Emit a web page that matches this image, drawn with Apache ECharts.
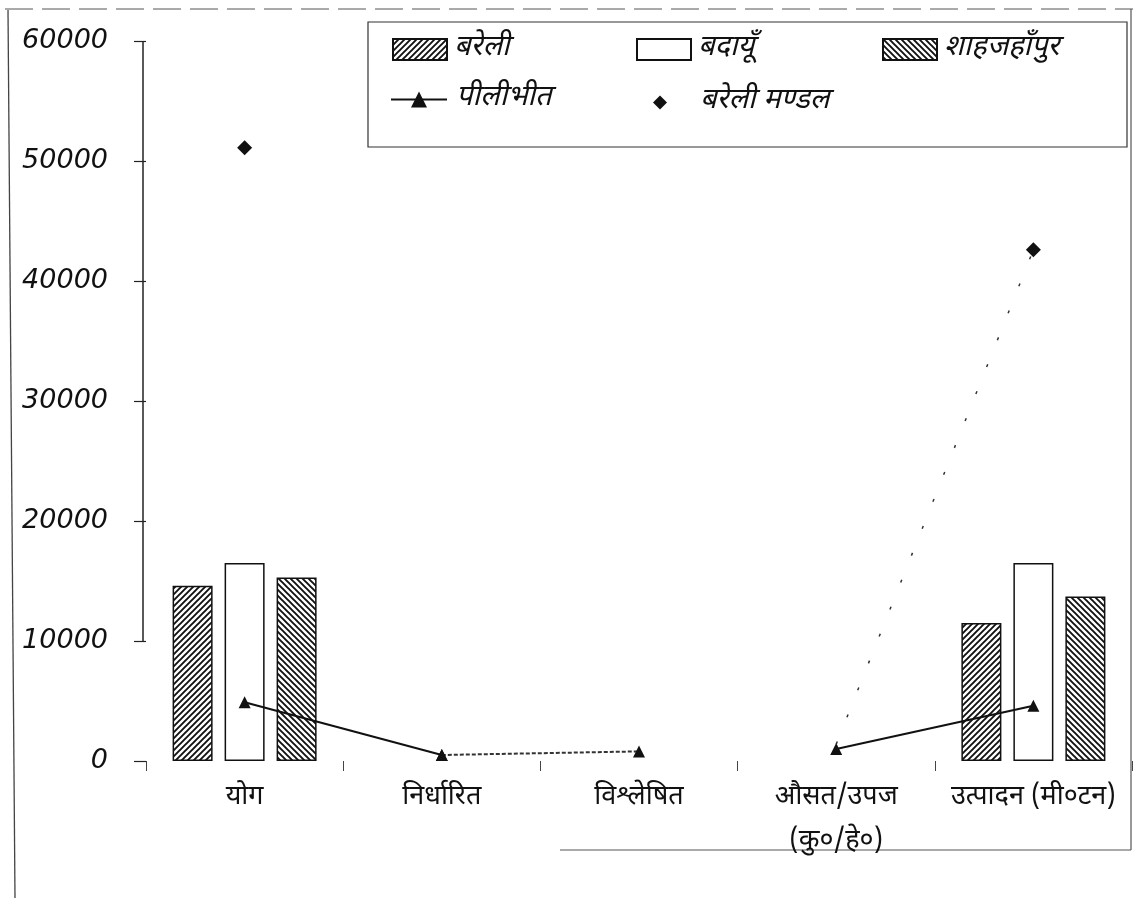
<!DOCTYPE html>
<html>
<head>
<meta charset="utf-8">
<script src="https://cdn.jsdelivr.net/npm/echarts@6/dist/echarts.min.js"></script>
<style>
  html, body { margin: 0; padding: 0; background: #fff; }
  #chart { width: 1138px; height: 901px; }
</style>
</head>
<body>
<div id="chart"></div>
<script>
// Categories along the x axis
const categories = ['योग', 'निर्धारित', 'विश्लेषित', 'औसत/उपज\n(कु०/हे०)', 'उत्पादन (मी०टन)'];

// District values (bars)
const bareli       = [14600, '-', '-', '-', 11500];
const badayun      = [16500, '-', '-', '-', 16500];
const shahjahanpur = [15300, '-', '-', '-', 13700];

// Pilibhit (line with triangles)
const pilibhit = [4900, 500, 800, 1000, 4600];

// Bareli division (diamonds)
const mandal = [51100, '-', '-', 1400, 42600];

// Value axis
const yMin = 0, yMax = 60000, yStep = 10000;

const DEVA = '"Noto Sans Devanagari", "Lohit Devanagari", "Noto Sans", sans-serif';

// Diagonal hatch fill: dir 1 = '/', dir -1 = '\'
function hatch(dir) {
  const s = 6, c = document.createElement('canvas');
  c.width = c.height = s;
  const g = c.getContext('2d');
  g.fillStyle = '#fff'; g.fillRect(0, 0, s, s);
  g.strokeStyle = '#111'; g.lineWidth = 1.9;
  g.beginPath();
  if (dir > 0) {
    g.moveTo(-1, 1); g.lineTo(1, -1);
    g.moveTo(0, s); g.lineTo(s, 0);
    g.moveTo(s - 1, s + 1); g.lineTo(s + 1, s - 1);
  } else {
    g.moveTo(-1, s - 1); g.lineTo(1, s + 1);
    g.moveTo(0, 0); g.lineTo(s, s);
    g.moveTo(s - 1, -1); g.lineTo(s + 1, 1);
  }
  g.stroke();
  return { image: c, repeat: 'repeat' };
}

// Pilibhit is drawn in pieces: solid, dashed, gap, solid
const pA = pilibhit.map((v, i) => (i <= 1 ? v : '-'));
const pB = pilibhit.map((v, i) => (i >= 1 && i <= 2 ? v : '-'));
const pC = pilibhit.map((v, i) => (i >= 3 ? v : '-'));

const mandalData = mandal.map((v, i) => (i === 3 ? { value: v, symbol: 'none' } : v));

// One legend block per entry so each sits in its own column
function legendAt(name, left, top, w, h, gap, icon) {
  return {
    data: [name], left: left, top: top, itemWidth: w, itemHeight: h,
    orient: 'horizontal', padding: 0, selectedMode: false,
    icon: icon,
    formatter: '{s|}{t|{name}}',
    textStyle: {
      rich: {
        s: { width: gap },
        t: { fontFamily: DEVA, fontSize: 29, fontStyle: 'italic', color: '#111' }
      }
    }
  };
}

const chart = echarts.init(document.getElementById('chart'), null, { renderer: 'canvas' });

chart.setOption({
  animation: false,
  backgroundColor: '#fff',
  grid: { left: 146, top: 41, width: 986, height: 720, containLabel: false },
  legend: [
    legendAt('बरेली', 392, 35, 54, 21, 2, 'rect'),
    legendAt('बदायूँ', 636, 35, 54, 21, 2, 'rect'),
    legendAt('शाहजहाँपुर', 882, 35, 54, 21, 2, 'rect'),
    legendAt('पीलीभीत', 390, 85, 56, 20, 4),
    legendAt('बरेली मण्डल', 653, 88, 14, 14, 28, 'diamond')
  ],
  xAxis: {
    type: 'category',
    data: categories,
    axisLine: { show: false },
    axisTick: { show: true, length: 10, lineStyle: { color: '#444', width: 1 } },
    axisLabel: {
      fontFamily: DEVA, fontSize: 27, color: '#111',
      margin: 16, lineHeight: 44, interval: 0
    },
    splitLine: { show: false }
  },
  yAxis: {
    type: 'value',
    min: yMin, max: yMax, interval: yStep,
    axisLine: { show: false },
    axisTick: { show: true, length: 12, lineStyle: { color: '#222', width: 1.2 } },
    axisLabel: {
      fontFamily: '"DejaVu Sans", sans-serif', fontStyle: 'italic',
      fontSize: 27, color: '#111', margin: 38,
      formatter: function (v) { return String(v); }
    },
    splitLine: { show: false }
  },
  series: [
    {
      name: 'बरेली', type: 'bar', data: bareli,
      barWidth: 40, barGap: '30%',
      itemStyle: { color: hatch(1), borderColor: '#111', borderWidth: 1.5 }
    },
    {
      name: 'बदायूँ', type: 'bar', data: badayun,
      barWidth: 40, barGap: '30%',
      itemStyle: { color: '#fff', borderColor: '#111', borderWidth: 1.5 }
    },
    {
      name: 'शाहजहाँपुर', type: 'bar', data: shahjahanpur,
      barWidth: 40, barGap: '30%',
      itemStyle: { color: hatch(-1), borderColor: '#111', borderWidth: 1.5 }
    },
    {
      name: 'पीलीभीत', type: 'line', data: pA,
      symbol: 'triangle', symbolSize: 12,
      lineStyle: { color: '#111', width: 2 },
      itemStyle: { color: '#111' }
    },
    {
      name: 'पीलीभीत', type: 'line', data: pB,
      symbol: 'triangle', symbolSize: 12,
      lineStyle: { color: '#333', width: 2, type: [4, 2] },
      itemStyle: { color: '#111' }
    },
    {
      name: 'पीलीभीत', type: 'line', data: pC,
      symbol: 'triangle', symbolSize: 12,
      lineStyle: { color: '#111', width: 2 },
      itemStyle: { color: '#111' }
    },
    {
      name: 'बरेली मण्डल', type: 'line', data: mandalData,
      symbol: 'diamond', symbolSize: 15,
      lineStyle: { color: '#333', width: 1.5, type: [3, 26] },
      itemStyle: { color: '#111' }
    },
    {
      // value axis spine, drawn over the upper part of the scale only
      type: 'custom', silent: true, z: 1,
      data: [[0, 10000, 60000]],
      renderItem: function (params, api) {
        const a = api.coord([0, api.value(1)]);
        const b = api.coord([0, api.value(2)]);
        const bw = api.size([1, 0])[0];
        const x = a[0] - bw / 2 - 3;
        return {
          type: 'line',
          shape: { x1: x, y1: a[1], x2: x, y2: b[1] },
          style: { stroke: '#222', lineWidth: 1.5 }
        };
      }
    }
  ],
  graphic: [
    // outer frame
    { type: 'line', shape: { x1: 5, y1: 9, x2: 1133, y2: 9 }, style: { stroke: '#555', lineWidth: 1, lineDash: [28, 9] } },
    { type: 'line', shape: { x1: 8, y1: 10, x2: 15, y2: 898 }, style: { stroke: '#444', lineWidth: 1.3 } },
    { type: 'line', shape: { x1: 1131, y1: 9, x2: 1131, y2: 850 }, style: { stroke: '#555', lineWidth: 1.2 } },
    { type: 'line', shape: { x1: 560, y1: 850, x2: 1131, y2: 850 }, style: { stroke: '#555', lineWidth: 1.2 } },
    // legend box
    { type: 'rect', shape: { x: 368, y: 22, width: 759, height: 125 }, style: { fill: 'none', stroke: '#333', lineWidth: 1.2 } }
  ]
});
</script>
</body>
</html>
